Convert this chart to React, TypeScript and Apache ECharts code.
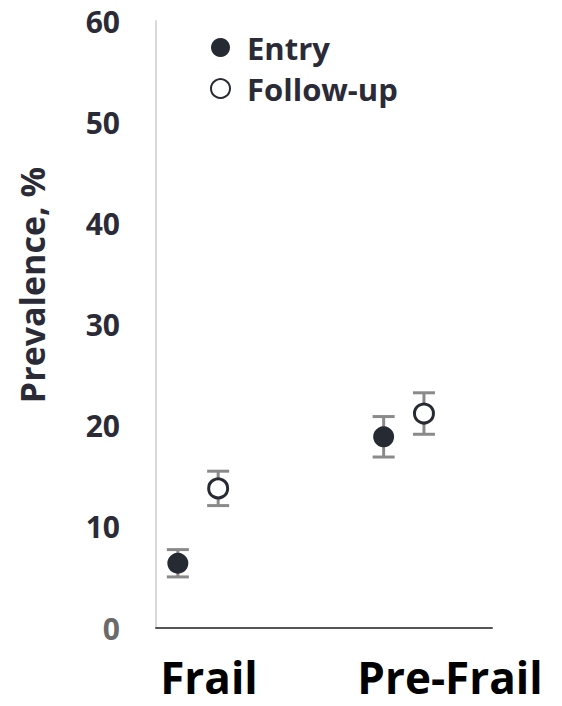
import React, { useEffect, useRef } from "react";
import * as echarts from "echarts";

const categories = ["Frail", "Pre-Frail"];
const seriesNames = ["Entry", "Follow-up"];
const entryValues = [6.4, 18.9];
const entryErrors = [1.35, 2.0];
const followValues = [13.8, 21.2];
const followErrors = [1.7, 2.05];

// layout constants (x positions on hidden value axis)
const groupCenters = [1.0, 5.9];
const pairOffset = 0.48;

const DARK = "#262a33";
const TEXT = "#2b2b38";
const ERR = "#8a8a8a";

export default function App() {
  const ref = useRef<HTMLDivElement>(null);
  useEffect(() => {
    if (!ref.current) return;
    const chart = echarts.init(ref.current, undefined, { renderer: "svg" });

    const entryPts = categories.map((_, i) => [groupCenters[i] - pairOffset, entryValues[i]]);
    const followPts = categories.map((_, i) => [groupCenters[i] + pairOffset, followValues[i]]);
    const errData = [
      ...categories.map((_, i) => [groupCenters[i] - pairOffset, entryValues[i] - entryErrors[i], entryValues[i] + entryErrors[i]]),
      ...categories.map((_, i) => [groupCenters[i] + pairOffset, followValues[i] - followErrors[i], followValues[i] + followErrors[i]]),
    ];

    const capHalf = 11;
    chart.setOption({
      animation: false,
      backgroundColor: "#ffffff",
      grid: { left: 156, top: 21, right: 70, bottom: 78 },
      xAxis: {
        type: "value",
        min: 0,
        max: 8,
        axisLine: { show: true, onZero: false, lineStyle: { color: "#555555", width: 2 } },
        axisTick: { show: false },
        axisLabel: { show: false },
        splitLine: { show: false },
      },
      yAxis: {
        type: "value",
        min: 0,
        max: 60,
        interval: 10,
        axisLine: { show: true, onZero: false, lineStyle: { color: "#d9d9d9", width: 2 } },
        axisTick: { show: false },
        splitLine: { show: false },
        axisLabel: {
          margin: 36,
          formatter: (v: number) => (v === 0 ? "{z|" + v + "}" : "{n|" + v + "}"),
          rich: {
            n: { fontFamily: "Open Sans", fontWeight: "bold", fontSize: 30, color: TEXT },
            z: { fontFamily: "Open Sans", fontWeight: "bold", fontSize: 30, color: "#6a6a6a" },
          },
        },
      },
      legend: {
        orient: "vertical",
        left: 205,
        top: 27,
        itemWidth: 19,
        itemHeight: 19,
        itemGap: 10,
        data: seriesNames.map((n) => ({ name: n, icon: "circle" })),
        textStyle: { fontFamily: "Open Sans", fontWeight: "bold", fontSize: 31, color: TEXT, padding: [0, 0, 0, 12] },
      },
      graphic: [
        {
          type: "text",
          x: 32,
          y: 285,
          rotation: Math.PI / 2,
          style: {
            text: "Prevalence, %",
            fontFamily: "Open Sans",
            fontWeight: "bold",
            fontSize: 34,
            fill: TEXT,
            align: "center",
            verticalAlign: "middle",
          },
        },
        {
          type: "text",
          x: 209,
          y: 699,
          style: { text: categories[0], fontFamily: "Open Sans", fontWeight: "bold", fontSize: 44, fill: "#000", align: "center", verticalAlign: "bottom" },
        },
        {
          type: "text",
          x: 450,
          y: 699,
          style: { text: categories[1], fontFamily: "Open Sans", fontWeight: "bold", fontSize: 44, fill: "#000", align: "center", verticalAlign: "bottom" },
        },
      ],
      series: [
        {
          type: "custom",
          name: "err",
          z: 1,
          data: errData,
          renderItem: (params: any, api: any) => {
            const x = api.value(0);
            const lo = api.coord([x, api.value(1)]);
            const hi = api.coord([x, api.value(2)]);
            const st = { stroke: ERR, lineWidth: 3 };
            return {
              type: "group",
              children: [
                { type: "line", shape: { x1: lo[0], y1: lo[1], x2: hi[0], y2: hi[1] }, style: st },
                { type: "line", shape: { x1: lo[0] - capHalf, y1: lo[1], x2: lo[0] + capHalf, y2: lo[1] }, style: st },
                { type: "line", shape: { x1: hi[0] - capHalf, y1: hi[1], x2: hi[0] + capHalf, y2: hi[1] }, style: st },
              ],
            };
          },
        },
        {
          type: "scatter",
          name: seriesNames[0],
          z: 3,
          symbol: "circle",
          symbolSize: 21,
          data: entryPts,
          itemStyle: { color: DARK, opacity: 1 },
        },
        {
          type: "scatter",
          name: seriesNames[1],
          z: 3,
          symbol: "circle",
          symbolSize: 19,
          data: followPts,
          itemStyle: { color: "#ffffff", borderColor: DARK, borderWidth: 3, opacity: 1 },
        },
      ],
    });
    return () => chart.dispose();
  }, []);
  return <div ref={ref} style={{ width: 562, height: 706, position: "absolute", left: 0, top: 0 }} />;
}
